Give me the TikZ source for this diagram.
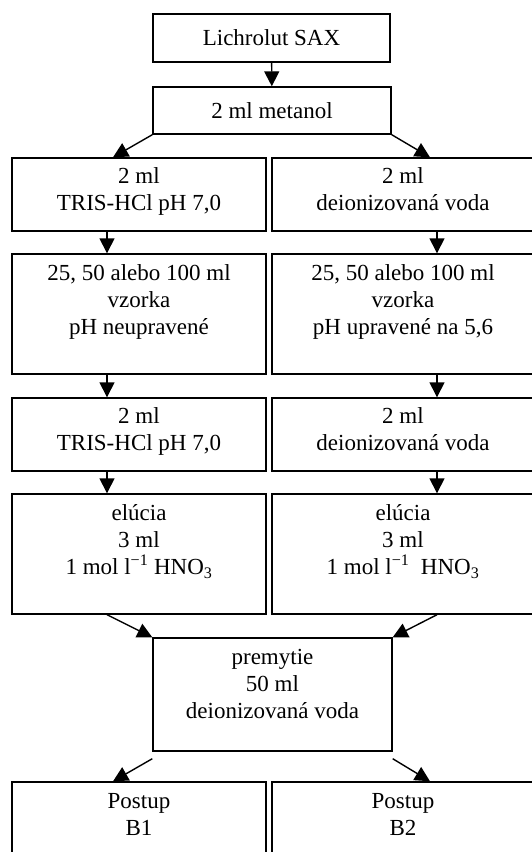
\documentclass[tikz,border=0pt]{standalone}
\usepackage{fontspec}
\setmainfont{Liberation Serif}
\usepackage{tikz}
\usetikzlibrary{arrows.meta}
\usetikzlibrary{positioning}

\begin{document}
\begin{tikzpicture}[x=1pt,y=-1pt]
    \useasboundingbox (0,0) rectangle (531,852);
    \begin{scope}[every node/.style={rectangle,draw,line width=1.4pt,align=center,
        inner sep=0pt,font=\fontsize{23}{27}\selectfont}]
      \node[minimum width=237pt,minimum height=48pt] (1) at (271.5,38) {Lichrolut SAX};
      \node[minimum width=238pt,minimum height=47pt] (2) at (272,110.5) {2 ml metanol};
      \node[minimum width=254pt,minimum height=73pt] (3) at (139,194.5) {2 ml\\TRIS-HCl pH 7,0\\[-25pt]\strut};
      \node[minimum width=262pt,minimum height=73pt] (4) at (403,194.5) {2 ml\\deionizovaná voda\\[-25pt]\strut};
      \node[minimum width=254pt,minimum height=120pt] (5) at (139,314) {25, 50 alebo 100 ml\\vzorka\\pH neupravené\\[-6pt]\strut};
      \node[minimum width=262pt,minimum height=120pt] (6) at (403,314) {25, 50 alebo 100 ml\\vzorka\\pH upravené na 5,6\\[-6pt]\strut};
      \node[minimum width=254pt,minimum height=73pt] (7) at (139,434.5) {2 ml\\TRIS-HCl pH 7,0\\[-25pt]\strut};
      \node[minimum width=262pt,minimum height=73pt] (8) at (403,434.5) {2 ml\\deionizovaná voda\\[-25pt]\strut};
      \node[minimum width=254pt,minimum height=120pt] (9) at (139,554) {elúcia\\3 ml\\1 mol l\textsuperscript{−1} HNO\textsubscript{3}\\[-6pt]\strut};
      \node[minimum width=262pt,minimum height=120pt] (10) at (403,554) {elúcia\\3 ml\\1 mol l\textsuperscript{−1}\ \ HNO\textsubscript{3}\\[-6pt]\strut};
      \node[minimum width=239pt,minimum height=113pt] (11) at (272.5,694.5) {premytie\\50 ml\\deionizovaná voda\\[-14pt]\strut};
      \node[minimum width=254pt,minimum height=75pt] (12) at (139,819.5) {Postup\\B1\\[-25pt]\strut};
      \node[minimum width=262pt,minimum height=75pt] (13) at (403,819.5) {Postup\\B2\\[-25pt]\strut};
    \end{scope}
    \begin{scope}[every edge/.style={draw=black,line width=1.4pt,-{Triangle[length=15pt,width=15pt]}}]
      \path (1) edge (2);
      \path (2.south west) edge ([xshift=-26pt]3.north);
      \path (2.south east) edge ([xshift=27pt]4.north);
      \path ([xshift=-32pt]3.south) edge ([xshift=-32pt]5.north);
      \path ([xshift=34pt]4.south) edge ([xshift=34pt]6.north);
      \path ([xshift=-32pt]5.south) edge ([xshift=-32pt]7.north);
      \path ([xshift=34pt]6.south) edge ([xshift=34pt]8.north);
      \path ([xshift=-32pt]7.south) edge ([xshift=-32pt]9.north);
      \path ([xshift=34pt]8.south) edge ([xshift=34pt]10.north);
      \path ([xshift=-32pt]9.south) edge (11.north west);
      \path ([xshift=34pt]10.south) edge (11.north east);
      \path ([yshift=-7pt]11.south west) edge ([xshift=-26pt]12.north);
      \path ([yshift=-7pt]11.south east) edge ([xshift=27pt]13.north);
    \end{scope}
  \end{tikzpicture}
\end{document}
